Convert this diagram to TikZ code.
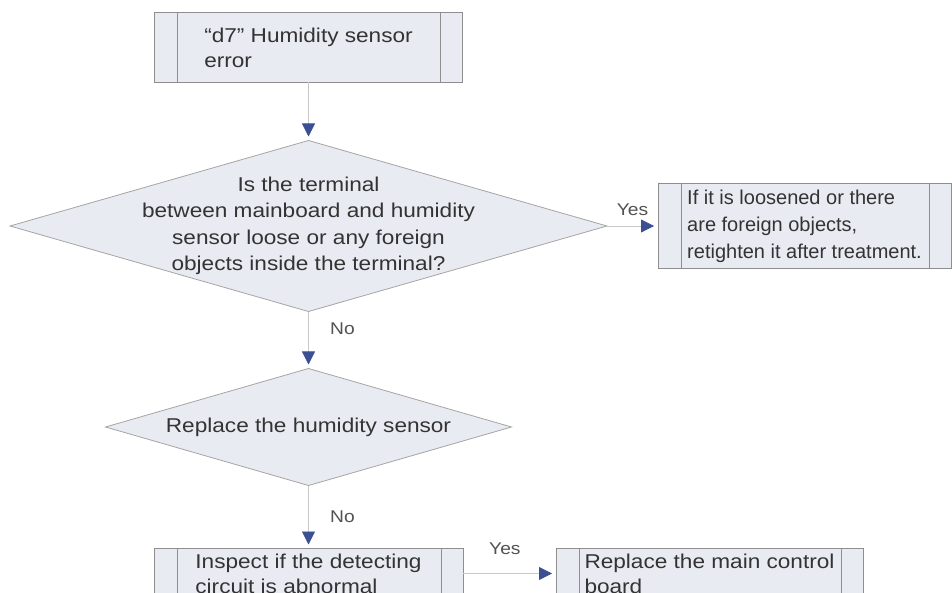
\documentclass[tikz,border=0pt]{standalone}
\usepackage{fontspec}
\setmainfont[FakeStretch=1.13]{Liberation Sans}
\newfontfamily\narrowfont{Liberation Sans}
\usetikzlibrary{arrows.meta, positioning, shapes.geometric}
\definecolor{boxfill}{HTML}{E9EBF2}
\definecolor{boxedge}{HTML}{8E8E8E}
\definecolor{tipblue}{HTML}{3C4F93}
\definecolor{flowgray}{HTML}{C8C8C8}
\definecolor{txtgray}{HTML}{333333}

\begin{document}
\begin{tikzpicture}[
  procbox/.style={draw=boxedge, fill=boxfill, line width=0.9pt, outer sep=0pt, inner sep=0pt,
    align=left, text=txtgray, font=\fontsize{20}{25}\selectfont,
    path picture={
      \draw[boxedge, line width=0.9pt] ([xshift=23pt]path picture bounding box.north west) -- ([xshift=23pt]path picture bounding box.south west);
      \draw[boxedge, line width=0.9pt] ([xshift=-22pt]path picture bounding box.north east) -- ([xshift=-22pt]path picture bounding box.south east);
    }},
  decision/.style={diamond, aspect=3.49, draw=boxedge!80, fill=boxfill, line width=0.8pt, outer sep=0pt,
    inner xsep=0pt, inner ysep=-15pt, align=center, text=txtgray, font=\fontsize{20}{26.5}\selectfont},
  lbl/.style={font=\fontsize{17}{20}\selectfont, text=txtgray!85},
  flow/.style={draw=flowgray, line width=0.8pt, -{Triangle[color=tipblue, length=13pt, width=13pt]}, shorten >=4pt}
]
\clip (0,0) rectangle (952pt,-593pt);
\fill[white] (0,0) rectangle (952pt,-593pt);

\node[procbox, minimum width=308pt, minimum height=70pt] (err) at (308.5pt,-47.5pt) {``d7'' Humidity sensor\\error};
\node[decision, minimum width=597pt, minimum height=171pt, below=58pt of err] (term)
  {Is the terminal\\between mainboard and humidity\\sensor loose or any foreign\\objects inside the terminal?};
\node[procbox, minimum width=293pt, minimum height=85pt, right=51pt of term, font=\narrowfont\fontsize{20}{27}\selectfont] (fix)
  {If it is loosened or there\\are foreign objects,\\retighten it after treatment.};
\node[decision, minimum width=406pt, minimum height=117pt, below=57pt of term] (sensor) {Replace the humidity sensor};
\node[procbox, minimum width=309pt, minimum height=50pt, below=63pt of sensor] (check)
  {Inspect if the detecting\\circuit is abnormal};
\node[procbox, minimum width=307pt, minimum height=50pt, right=93pt of check] (board)
  {Replace the main control\\board};

\draw[flow] (err) -- (term);
\draw[flow] (term) -- node[lbl, above=7pt]{Yes} (fix);
\draw[flow] (term) -- node[lbl, right=18pt, pos=0.3]{No} (sensor);
\draw[flow] (sensor) -- node[lbl, right=18pt]{No} (check);
\draw[flow] (check) -- node[lbl, above=15pt, pos=0.45]{Yes} (board);
\end{tikzpicture}
\end{document}
